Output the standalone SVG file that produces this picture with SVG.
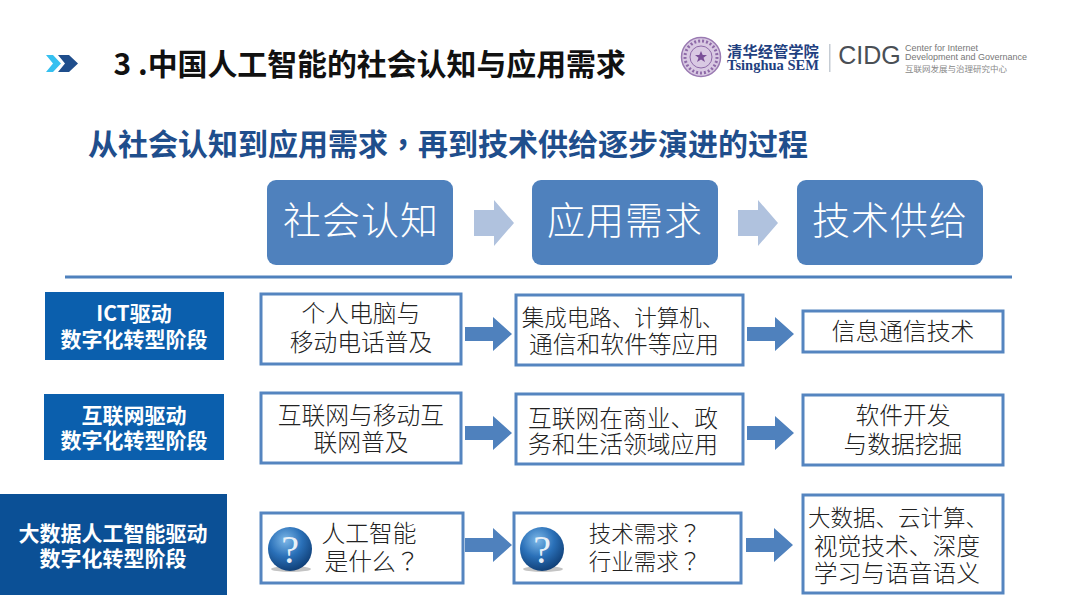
<svg xmlns="http://www.w3.org/2000/svg" width="1080" height="607" viewBox="0 0 1080 607">
<defs>
<radialGradient id="ball" cx="0.4" cy="0.3" r="0.75"><stop offset="0" stop-color="#7db8e8"/><stop offset="0.5" stop-color="#2a70b8"/><stop offset="1" stop-color="#0d3a70"/></radialGradient>
<symbol id="qm" overflow="visible"><ellipse cx="1" cy="20" rx="20" ry="3" fill="#c4c4c4"/><circle cx="0" cy="0" r="22" fill="url(#ball)"/><text x="0" y="14" class="q">?</text></symbol>
<path id="arrow" d="M0-7H28V-17L47 0 28 17V7H0Z"/>
<path id="lightarrow" d="M0-13H20V-23L40 0 20 23V13H0Z"/>
</defs>
<style>
text{font-family:"Noto Sans CJK SC","Noto Sans",sans-serif;text-anchor:middle}
.h{font-weight:700;text-anchor:start;font-size:29.900px}
.sub{font-size:30px}
.top{fill:#4f81bd}
.toptx{fill:#fff;font-size:38px;font-weight:300;letter-spacing:1px}
.stage{font-weight:700;font-size:21px;fill:#fff}
.box{fill:#fff;stroke:#5585c0;stroke-width:3}
.bt{font-size:23.750px;font-weight:300;fill:#222}
.sm{font-size:22.500px}
.tc{font-family:"Noto Sans CJK TC",sans-serif}
.q{font-family:"Liberation Serif",serif;font-size:40px;fill:#e8f0f8}
.a{fill:#4f81bd}
.la{fill:#b0c2de}
.ls{text-anchor:start;font-family:"Liberation Sans",sans-serif;font-size:9px;fill:#777}
.ring{fill:none;stroke:#8e6aa8}
</style>
<rect width="1080" height="607" fill="#fff"/>
<g id="header">
<path d="M46 55H53L61 63.500 53 72H46L53 63.500Z" fill="#35c0f0"/>
<path d="M58 55H69L78 63.500 69 72H58L65 63.500Z" fill="#1f4e8c"/>
<text x="113.500" y="74.500" class="h" fill="#111">3 .中国人工智能的社会认知与应用需求</text>
<text x="88" y="155" class="h sub" fill="#1f4e8c">从社会认知到应用需求<tspan class="tc">，</tspan>再到技术供给逐步演进的过程</text>
</g>
<g id="logo">
<circle cx="701" cy="57" r="19.500" fill="#d9c9e3" stroke="#9a7ab2" stroke-width="1.500"/>
<circle class="ring" cx="701" cy="57" r="16" stroke-width="3" stroke-dasharray="2 2"/>
<circle class="ring" cx="701" cy="57" r="11" stroke-width="1"/>
<path d="M701 51l1.700 4h4.300l-3.500 2.700 1.500 4.300-4-2.600-4 2.600 1.500-4.300-3.500-2.700h4.300Z" fill="#7a4f98"/>
<text x="773" y="56.500" font-size="15.300" font-weight="700" fill="#1f3f80">清华经管学院</text>
<text x="773" y="70" font-size="14.500" font-weight="700" fill="#1f3f80" style="font-family:'Liberation Serif',serif">Tsinghua SEM</text>
<rect x="829" y="44" width="1.500" height="28" fill="#c5ccd4"/>
<text x="869.500" y="64" font-size="25" fill="#4a4f55" style="font-family:'Liberation Sans',sans-serif">CIDG</text>
<text x="905" y="50.500" class="ls">Center for Internet</text>
<text x="905" y="60" class="ls">Development and Governance</text>
<text x="905" y="72" font-size="8.500" fill="#888" style="text-anchor:start">互联网发展与治理研究中心</text>
</g>
<g id="node-social">
<rect class="top" x="267" y="180" width="186" height="85" rx="9"/>
<text class="toptx" x="361" y="234">社会认知</text>
</g>
<g id="node-demand">
<rect class="top" x="532" y="180" width="186" height="85" rx="9"/>
<text class="toptx" x="625" y="234">应用需求</text>
</g>
<g id="node-supply">
<rect class="top" x="797" y="180" width="186" height="85" rx="9"/>
<text class="toptx" x="890" y="234">技术供给</text>
</g>
<g id="divider"><rect x="65" y="275.500" width="947" height="3" fill="#4f81bd"/></g>
<g id="stage-ict">
<rect x="45" y="292" width="179" height="68" fill="#0b5fad"/>
<text class="stage" x="134" y="321">ICT驱动</text>
<text class="stage" x="134" y="347">数字化转型阶段</text>
</g>
<g id="stage-internet">
<rect x="44" y="394" width="180" height="66" fill="#0b5fad"/>
<text class="stage" x="134" y="423">互联网驱动</text>
<text class="stage" x="134" y="448">数字化转型阶段</text>
</g>
<g id="stage-ai">
<rect x="0" y="494" width="227" height="101" fill="#0b5096"/>
<text class="stage" x="113" y="541">大数据人工智能驱动</text>
<text class="stage" x="113" y="566">数字化转型阶段</text>
</g>
<g id="r1a"><rect class="box" x="261" y="294" width="200" height="70"/><text class="bt" x="361" y="322">个人电脑与</text><text class="bt" x="361" y="351">移动电话普及</text></g>
<g id="r1b"><rect class="box" x="516" y="295" width="227" height="70"/><text class="bt sm" x="623" y="326">集成电路、计算机、</text><text class="bt" x="624" y="353">通信和软件等应用</text></g>
<g id="r1c"><rect class="box" x="803" y="311" width="200" height="41"/><text class="bt" x="903" y="340">信息通信技术</text></g>
<g id="r2a"><rect class="box" x="261" y="393" width="200" height="70"/><text class="bt" x="361" y="424">互联网与移动互</text><text class="bt" x="361" y="451">联网普及</text></g>
<g id="r2b"><rect class="box" x="516" y="394" width="227" height="70"/><text class="bt" x="623" y="427">互联网在商业、政</text><text class="bt" x="623" y="453">务和生活领域应用</text></g>
<g id="r2c"><rect class="box" x="803" y="395" width="200" height="70"/><text class="bt" x="903" y="424">软件开发</text><text class="bt" x="903" y="453">与数据挖掘</text></g>
<g id="r3a"><rect class="box" x="261" y="513" width="202" height="70"/><use href="#qm" x="290" y="549"/><text class="bt" x="369" y="542">人工智能</text><text class="bt" x="372" y="570">是什么<tspan class="tc">？</tspan></text></g>
<g id="r3b"><rect class="box" x="514" y="513" width="227" height="70"/><use href="#qm" x="542" y="549"/><text class="bt sm" x="645" y="542">技术需求<tspan class="tc">？</tspan></text><text class="bt sm" x="645" y="570">行业需求<tspan class="tc">？</tspan></text></g>
<g id="r3c"><rect class="box" x="803" y="495" width="200" height="98"/><text class="bt sm" x="898" y="526">大数据、云计算、</text><text class="bt" x="897" y="555">视觉技术、深度</text><text class="bt" x="897" y="582">学习与语音语义</text></g>
<g id="connectors">
<use href="#lightarrow" class="la" x="474" y="223"/>
<use href="#lightarrow" class="la" x="738" y="223"/>
<use href="#arrow" class="a" x="465" y="334"/>
<use href="#arrow" class="a" x="747" y="334"/>
<use href="#arrow" class="a" x="465" y="433"/>
<use href="#arrow" class="a" x="747" y="433"/>
<use href="#arrow" class="a" x="465" y="545"/>
<use href="#arrow" class="a" x="746" y="545"/>
</g>
</svg>
